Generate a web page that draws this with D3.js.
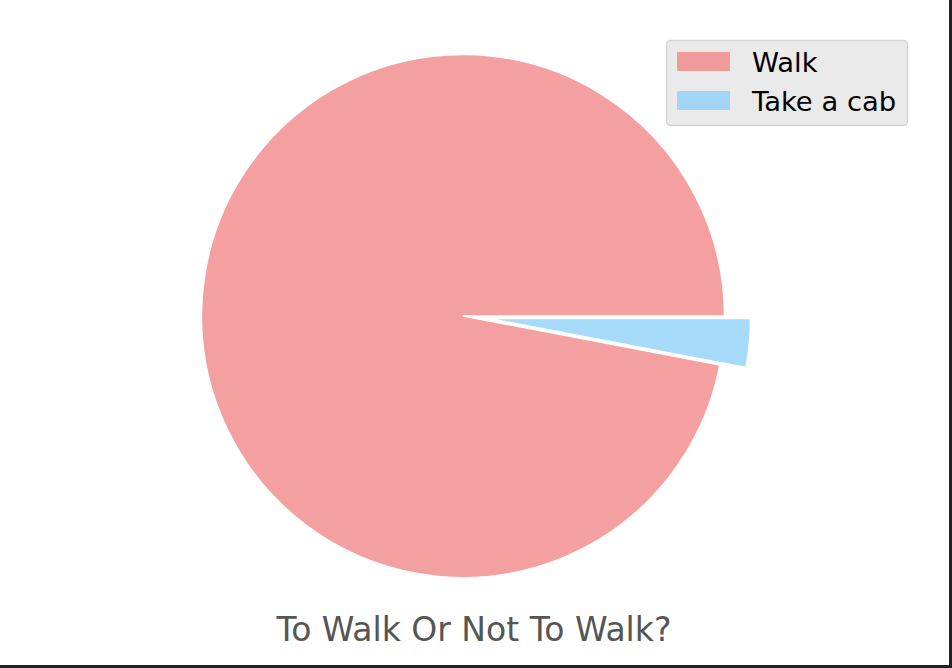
<!DOCTYPE html>
<html><head><meta charset="utf-8">
<script src="https://cdn.jsdelivr.net/npm/d3@7"></script>
<style>html,body{margin:0;padding:0;background:#fff;} svg{display:block;}</style>
</head><body>
<script>
const categories = ["Walk", "Take a cab"];
const values = [97, 3];
const explode = [0, 0.1];
const colors = ["lightcoral", "lightskyblue"];
const title = "To Walk Or Not To Walk?";

const W = 952, H = 668;
const cx = 463, cy = 316, R = 261.5;
const svg = d3.select("body").append("svg").attr("width", W).attr("height", H);
svg.append("rect").attr("width", W).attr("height", H).attr("fill", "#fff");

// matplotlib: start angle 0 (east), counterclockwise
const pie = d3.pie().sort(null).value(d => d)
  .startAngle(Math.PI / 2).endAngle(Math.PI / 2 - 2 * Math.PI);
const arcs = pie(values);
const arc = d3.arc().innerRadius(0).outerRadius(R);

const g = svg.append("g").attr("transform", `translate(${cx},${cy})`);
g.selectAll("path").data(arcs).join("path")
  .attr("d", arc)
  .attr("transform", (d, i) => {
    const mid = (d.startAngle + d.endAngle) / 2;
    const off = explode[i] * R;
    return `translate(${off * Math.sin(mid)},${-off * Math.cos(mid)})`;
  })
  .attr("fill", (d, i) => colors[i])
  .attr("fill-opacity", 0.75)
  .attr("stroke", "#fff")
  .attr("stroke-width", 1.5)
  .attr("stroke-linejoin", "round");

// title
svg.append("text").attr("x", 474).attr("y", 641)
  .attr("text-anchor", "middle")
  .attr("font-family", "DejaVu Sans")
  .attr("font-size", 33).attr("fill", "#555555")
  .text(title);

// legend
const lg = svg.append("g");
lg.append("rect").attr("x", 666.5).attr("y", 40.5).attr("width", 241).attr("height", 85)
  .attr("rx", 4).attr("fill", "#e5e5e5").attr("fill-opacity", 0.8)
  .attr("stroke", "#cccccc").attr("stroke-opacity", 0.8).attr("stroke-width", 1.3);
const items = lg.selectAll("g.item").data(categories).join("g")
  .attr("transform", (d, i) => `translate(677,${52 + i * 39})`);
items.append("rect").attr("width", 53).attr("height", 19)
  .attr("fill", (d, i) => colors[i]).attr("fill-opacity", 0.75);
items.append("text").attr("x", 75).attr("y", 19.5)
  .attr("font-family", "DejaVu Sans").attr("font-size", 27.4).attr("fill", "#000")
  .text(d => d);

// figure border (right & bottom)
svg.append("line").attr("x1", 950.5).attr("x2", 950.5).attr("y1", 0).attr("y2", H)
  .attr("stroke", "#222").attr("stroke-width", 3);
svg.append("line").attr("x1", 0).attr("x2", W).attr("y1", 666.5).attr("y2", 666.5)
  .attr("stroke", "#222").attr("stroke-width", 3);
</script>
</body></html>
